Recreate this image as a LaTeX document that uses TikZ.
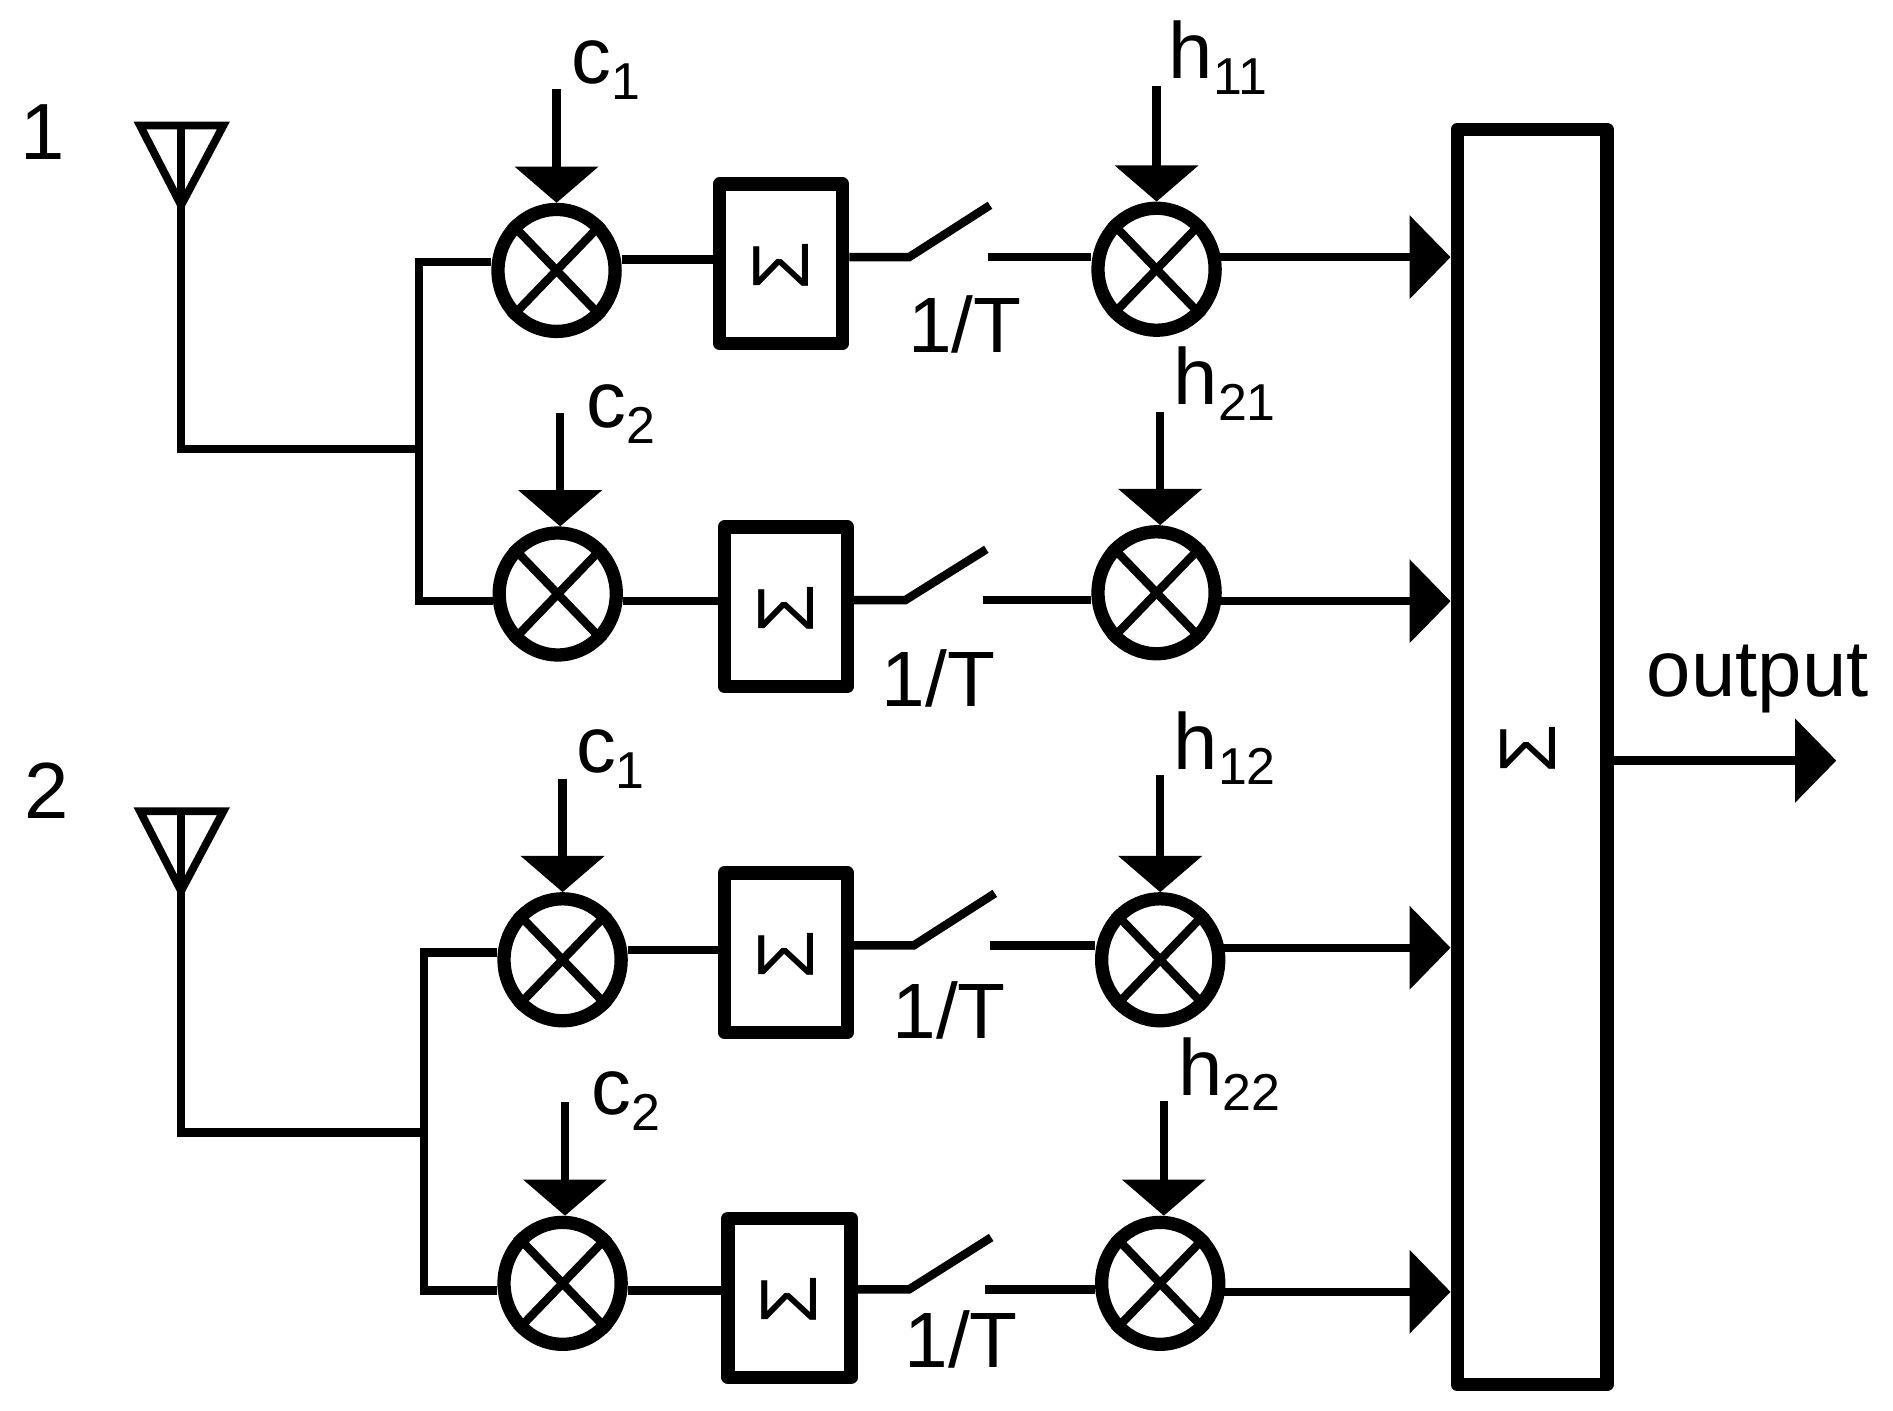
\documentclass[tikz,border=0pt]{standalone}
\usepackage{fontspec}
\setmainfont{Liberation Sans}
\usetikzlibrary{shapes.geometric,arrows.meta}
\newcommand{\lab}[2]{#1{\fontsize{43}{43}\selectfont\raisebox{-13pt}{#2}}}
\tikzset{
  x=1pt,y=-1pt,
  wire/.style={line width=7pt,line join=miter},
  mixer/.style={draw,ellipse,line width=11pt,minimum width=97pt,minimum height=101pt,inner sep=0pt},
  arm/.style={line width=7pt},
  filt/.style={draw,rectangle,line width=11pt,line join=round,minimum width=102pt,minimum height=132pt,inner sep=0pt},
  sum/.style={draw,rectangle,line width=11pt,line join=round,minimum width=124pt,minimum height=1040pt,inner sep=0pt},
  sig/.style={rotate=90,inner sep=0pt,font=\fontsize{66}{66}\selectfont},
  darr/.style={line width=7pt,-{Triangle[width=68pt,length=30pt]}},
  rarr/.style={line width=7pt,-{Triangle[width=68pt,length=34pt]}},
  txt/.style={anchor=base west,inner sep=0pt,font=\fontsize{66}{66}\selectfont},
  tick/.style={anchor=base west,inner sep=0pt,font=\fontsize{65}{65}\selectfont},
  ant/.style={line width=6.5pt,line join=miter},
}
\begin{document}
\begin{tikzpicture}
\useasboundingbox (0,0) rectangle (1568,1168);
% mixers
\node[mixer] (m1) at (461,224) {};
\node[mixer] (m2) at (462,492) {};
\node[mixer] (m3) at (466,795) {};
\node[mixer] (m4) at (466,1063) {};
\node[mixer] (h1) at (958,223) {};
\node[mixer] (h2) at (958,491) {};
\node[mixer] (h3) at (961,795) {};
\node[mixer] (h4) at (961,1063) {};
\foreach \n in {m1,m2,m3,m4,h1,h2,h3,h4}{
  \draw[arm] (\n.north west) -- (\n.south east);
  \draw[arm] (\n.north east) -- (\n.south west);
}
% filters
\node[filt] (b1) at (647,218.5) {};
\node[filt] (b2) at (651,502.5) {};
\node[filt] (b3) at (651,789) {};
\node[filt] (b4) at (654,1075) {};
\coordinate (g1c) at (647,220.5);
\coordinate (g2c) at (651,504.5);
\coordinate (g3c) at (651,791);
\coordinate (g4c) at (654,1077);
\node[sig] (g1) at (g1c) {Σ};
\node[sig] (g2) at (g2c) {Σ};
\node[sig] (g3) at (g3c) {Σ};
\node[sig] (g4) at (g4c) {Σ};
\node[sum] (S) at (1269,627) {};
\node[sig] (g5) at (1266,620) {Σ};
% antennas
\coordinate (a1top) at (150,104);
\coordinate (a1tl) at (116,104);
\coordinate (a1tr) at (185,104);
\coordinate (a1ap) at (150,170);
\coordinate (a2top) at (150,672);
\coordinate (a2tl) at (116,672);
\coordinate (a2tr) at (185,672);
\coordinate (a2ap) at (150,738);
\draw[ant] (a1tl) -- (a1tr) -- (a1ap) -- cycle;
\draw[ant] (a2tl) -- (a2tr) -- (a2ap) -- cycle;
\coordinate (j1) at (347,372);
\coordinate (j2) at (351,938);
\draw[wire] (a1top) |- (j1);
\draw[wire] (a2top) |- (j2);
% splits
\coordinate (w1) at (347,217);
\coordinate (w2) at (347,498);
\coordinate (w3) at (351,789);
\coordinate (w4) at (351,1069);
\draw[wire] (m1.west |- w1) -- (w1) -- (w2) -- (m2.west |- w2);
\draw[wire] (m3.west |- w3) -- (w3) -- (w4) -- (m4.west |- w4);
% mixer to filter
\draw[wire] (m1.east |- 0,215) -- (b1.west |- 0,215);
\draw[wire] (m2.east |- 0,498) -- (b2.west |- 0,498);
\draw[wire] (m3.east |- 0,787) -- (b3.west |- 0,787);
\draw[wire] (m4.east |- 0,1069) -- (b4.west |- 0,1069);
% switches
\coordinate (s1a) at (753,213); \coordinate (s1b) at (820,170); \coordinate (s1c) at (818,213);
\coordinate (s2a) at (750,497); \coordinate (s2b) at (817,455); \coordinate (s2c) at (814,497);
\coordinate (s3a) at (757,783); \coordinate (s3b) at (824,740); \coordinate (s3c) at (820,783);
\coordinate (s4a) at (753,1068); \coordinate (s4b) at (821,1025); \coordinate (s4c) at (816,1068);
\draw[wire] (b1.east |- s1a) -- (s1a) -- (s1b);
\draw[wire] (b2.east |- s2a) -- (s2a) -- (s2b);
\draw[wire] (b3.east |- s3a) -- (s3a) -- (s3b);
\draw[wire] (b4.east |- s4a) -- (s4a) -- (s4b);
\draw[wire] (s1c) -- (h1.west |- s1c);
\draw[wire] (s2c) -- (s2c -| h2.west);
\draw[wire] (s3c) -- (s3c -| h3.west);
\draw[wire] (s4c) -- (s4c -| h4.west);
% outputs to sum
\coordinate (o1) at (1010,213);
\coordinate (o2) at (1010,498);
\coordinate (o3) at (1013,785);
\coordinate (o4) at (1013,1070);
\foreach \i in {1,2,3,4}{ \draw[rarr] (o\i) -- (o\i -| S.west); }
\coordinate (outA) at (1336,630);
\coordinate (outB) at (1521,630);
\draw[rarr] (outA) -- (outB);
% code / channel inputs
\coordinate (c1) at (461,74);
\coordinate (c2) at (464,342);
\coordinate (c3) at (466,645);
\coordinate (c4) at (468,913);
\coordinate (d1) at (958,71);
\coordinate (d2) at (961,341);
\coordinate (d3) at (961,642);
\coordinate (d4) at (964,912);
\draw[darr] (c1) -- (c1 |- m1.north);
\draw[darr] (c2) -- (c2 |- m2.north);
\draw[darr] (c3) -- (c3 |- m3.north);
\draw[darr] (c4) -- (c4 |- m4.north);
\draw[darr] (d1) -- (d1 |- h1.north);
\draw[darr] (d2) -- (d2 |- h2.north);
\draw[darr] (d3) -- (d3 |- h3.north);
\draw[darr] (d4) -- (d4 |- h4.north);
% labels
\node[txt] (l1) at (17,132) {1};
\node[txt] (l2) at (20,678) {2};
\node[txt] (t1) at (473,69) {\lab{c}{1}};
\node[txt] (t2) at (486,354) {\lab{c}{2}};
\node[txt] (t3) at (477,640) {\lab{c}{1}};
\node[txt] (t4) at (490,923) {\lab{c}{2}};
\node[txt] (t5) at (968,65) {\lab{h}{11}};
\node[txt] (t6) at (972,335) {\lab{h}{21}};
\node[txt] (t7) at (972,637) {\lab{h}{12}};
\node[txt] (t8) at (976,907) {\lab{h}{22}};
\node[tick] (r1) at (752,292) {1/T};
\node[tick] (r2) at (730,585) {1/T};
\node[tick] (r3) at (739,860) {1/T};
\node[tick] (r4) at (749,1133) {1/T};
\node[txt] (out) at (1364,577) {output};
\end{tikzpicture}
\end{document}
